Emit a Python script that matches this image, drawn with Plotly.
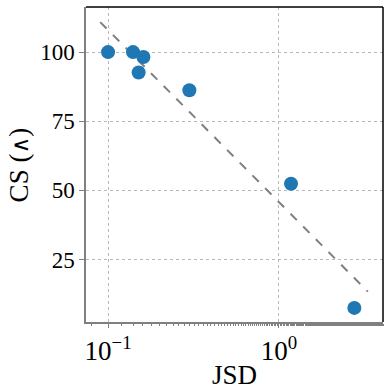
import numpy as np
import plotly.graph_objects as go

jsd = [0.10, 0.14, 0.161, 0.151, 0.299, 1.176, 2.76]
cs = [100.0, 100.0, 98.2, 92.6, 86.2, 52.4, 7.5]
x_tickvals = [0.1, 1.0]
x_ticktext = ["10<sup>−1</sup>", "10<sup>0</sup>"]
y_tickvals = [25, 50, 75, 100]
trend_lo_factor = 0.9
trend_hi_factor = 1.2

lx = np.log10(jsd)
slope, icpt = np.polyfit(lx, cs, 1)
tx = np.array([min(jsd) * trend_lo_factor, max(jsd) * trend_hi_factor])
ty = icpt + slope * np.log10(tx)

FONT = "Liberation Serif"
fig = go.Figure()
fig.add_trace(go.Scatter(x=tx, y=ty, mode="lines",
                         line=dict(color="gray", width=2, dash="dash"),
                         showlegend=False))
fig.add_trace(go.Scatter(x=jsd, y=cs, mode="markers",
                         marker=dict(color="#1f77b4", size=14),
                         showlegend=False))

fig.update_layout(
    width=391, height=391,
    margin=dict(l=86, r=8, t=7, b=69),
    paper_bgcolor="white", plot_bgcolor="white",
    font=dict(family=FONT, size=24, color="black"),
)
fig.update_xaxes(
    type="log", range=[np.log10(0.0743), np.log10(4.06)],
    tickvals=x_tickvals, ticktext=x_ticktext,
    showgrid=True, gridcolor="#b8b8b8", griddash="dot", gridwidth=1,
    showline=True, linecolor="#808080", linewidth=1.5,
    ticks="outside", ticklen=4, tickcolor="#808080",
    minor=dict(ticks="outside", ticklen=2, tickcolor="#808080", showgrid=False),
    zeroline=False, automargin=False,
    title=dict(text="JSD", font=dict(size=27, family=FONT), standoff=0),
    tickfont=dict(size=27, family=FONT),
)
fig.update_yaxes(
    range=[2.4, 116.3], tickvals=y_tickvals,
    showgrid=True, gridcolor="#b8b8b8", griddash="dot", gridwidth=1,
    showline=True, linecolor="#808080", linewidth=1.5,
    ticks="outside", ticklen=5, tickcolor="#808080",
    zeroline=False, automargin=False,
    tickfont=dict(size=23, family=FONT),
)
fig.add_annotation(
    text="CS (<span style=\"font-family:'DejaVu Serif';font-size:23px\">∧</span>)",
    xref="paper", yref="paper", x=-0.226, y=0.5,
    xanchor="center", yanchor="middle", textangle=-90, showarrow=False,
    font=dict(size=27, family=FONT, color="black"),
)
fig.add_shape(type="line", xref="paper", yref="paper", x0=0, x1=1, y0=1, y1=1,
              line=dict(color="black", width=1.5))
fig.add_shape(type="line", xref="paper", yref="paper", x0=1, x1=1, y0=0, y1=1,
              line=dict(color="black", width=1.5))
fig.write_html("out.html", config={"displayModeBar": False},
               post_script="document.body.style.margin='0';document.body.style.padding='0';")
